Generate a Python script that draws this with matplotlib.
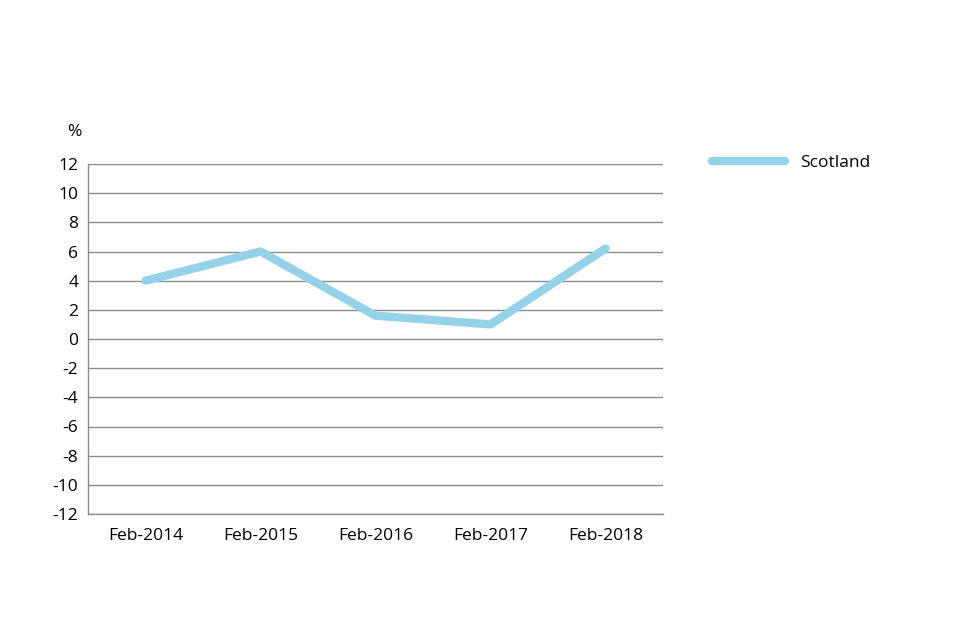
import matplotlib
matplotlib.use("Agg")
import matplotlib.pyplot as plt

plt.rcParams['font.family'] = ['Open Sans', 'DejaVu Sans']

dates = ['Feb-2014', 'Feb-2015', 'Feb-2016', 'Feb-2017', 'Feb-2018']
scotland = [4.0, 6.0, 1.6, 1.0, 6.2]
yticks = list(range(-12, 13, 2))

fig = plt.figure(figsize=(9.6, 6.4), dpi=100)
ax = fig.add_axes([88/960, 1-514/640, 575/960, 350/640])

x = list(range(len(dates)))
ax.plot(x, scotland, color='#93d2e8', linewidth=6, solid_capstyle='round',
        solid_joinstyle='miter', label='Scotland', zorder=3)

ax.set_xlim(-0.5, 4.5)
ax.set_ylim(-12, 12)
ax.set_yticks(yticks)
ax.set_yticklabels([str(v) for v in yticks])
ax.set_xticks(x)
ax.set_xticklabels(dates)
ax.yaxis.grid(True, color='#8c8c8c', linewidth=1)
ax.set_axisbelow(True)
ax.tick_params(length=0, labelsize=12.5, colors='black')
ax.tick_params(axis='y', pad=7)
ax.tick_params(axis='x', pad=10)

for s in ['top', 'right']:
    ax.spines[s].set_visible(False)
for s in ['left', 'bottom']:
    ax.spines[s].set_color('#8c8c8c')
    ax.spines[s].set_linewidth(1)

fig.text(74/960, 1-132/640, '%', fontsize=12.5, ha='center', va='center')

leg = ax.legend(loc='center left', bbox_to_anchor=(696/960, 1-163/640),
                bbox_transform=fig.transFigure, frameon=False, fontsize=12.5,
                handlelength=4.2, handletextpad=0.9)

fig.savefig('out.png', dpi=100)
